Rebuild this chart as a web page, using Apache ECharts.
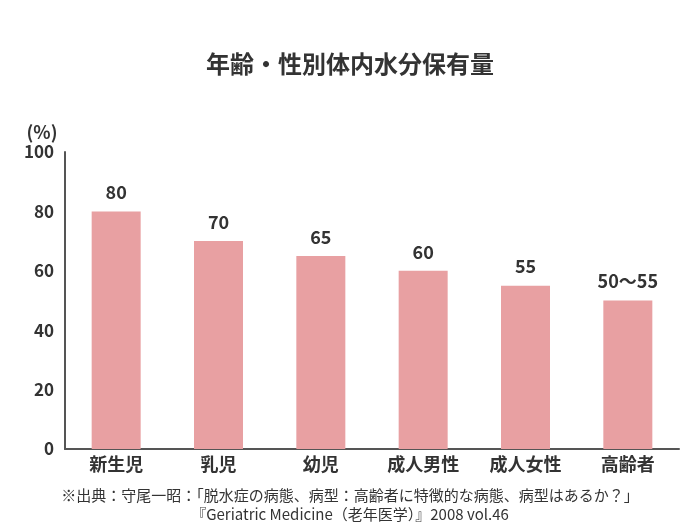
<!DOCTYPE html>
<html><head><meta charset="utf-8">
<script src="https://cdn.jsdelivr.net/npm/echarts@6/dist/echarts.min.js"></script>
<style>html,body{margin:0;padding:0;background:#fff}#c{width:700px;height:525px}</style>
</head><body><div id="c"></div>
<script>
const categories = ['新生児','乳児','幼児','成人男性','成人女性','高齢者'];
const values = [80, 70, 65, 60, 55, 50];
const valueLabels = ['80','70','65','60','55','50〜55'];
const yTicks = [0, 20, 40, 60, 80, 100];
const titleText = '年齢・性別体内水分保有量';
const sourceLines = ['※出典：守尾一昭：「脱水症の病態、病型：高齢者に特徴的な病態、病型はあるか？」', '『Geriatric Medicine（老年医学）』2008 vol.46'];
const F = '"Noto Sans CJK JP","Noto Sans",sans-serif';
const chart = echarts.init(document.getElementById('c'));
chart.setOption({
  animation: false,
  textStyle: {fontFamily: F},
  title: {text: titleText, left: 'center', top: 47,
     textStyle: {fontFamily: F, fontSize: 24, fontWeight: 'bold', color: '#333'}},
  graphic: sourceLines.map((t, i) => ({
    type: 'text', left: 'center', top: 488 + i * 19,
    style: {text: t, fontFamily: F, fontSize: 15, fill: '#333'}
  })),
  grid: {left: 65, right: 21, top: 152, bottom: 76},
  xAxis: {
    type: 'category', data: categories,
    axisLine: {lineStyle: {color: '#555', width: 2}},
    axisTick: {show: false},
    axisLabel: {color: '#333', fontSize: 18, fontWeight: 'bold', margin: 6, fontFamily: F}
  },
  yAxis: {
    type: 'value', min: yTicks[0], max: yTicks[yTicks.length-1], interval: 20,
    name: '(%)', nameLocation: 'end', nameGap: 11,
    nameTextStyle: {color: '#333', fontSize: 18, fontWeight: 'bold', align: 'center', padding: [0, 46, 0, 0], fontFamily: F},
    axisLine: {show: true, lineStyle: {color: '#555', width: 2}},
    axisTick: {show: false},
    splitLine: {show: false},
    axisLabel: {color: '#333', fontSize: 17, fontWeight: 'bold', margin: 11, fontFamily: F}
  },
  series: [{
    type: 'bar', data: values, barWidth: 49,
    itemStyle: {color: '#e8a0a2'},
    label: {show: true, position: 'top', distance: 10, color: '#333', fontSize: 18, fontWeight: 'bold', fontFamily: F,
      formatter: p => valueLabels[p.dataIndex]}
  }]
});
</script></body></html>
